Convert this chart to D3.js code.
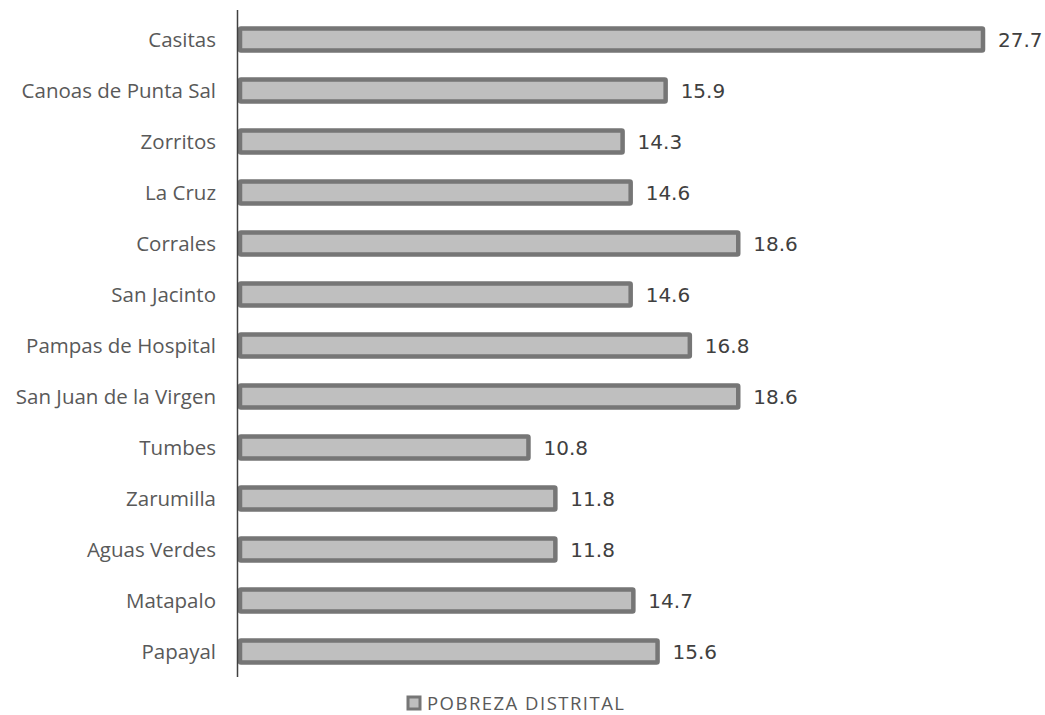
<!DOCTYPE html>
<html><head><meta charset="utf-8">
<script src="https://cdn.jsdelivr.net/npm/d3@7"></script>
<style>body{margin:0;background:#fff}</style>
</head><body>
<svg id="c" width="1045" height="715"></svg>
<script>
const categories = ["Casitas","Canoas de Punta Sal","Zorritos","La Cruz","Corrales","San Jacinto","Pampas de Hospital","San Juan de la Virgen","Tumbes","Zarumilla","Aguas Verdes","Matapalo","Papayal"];
const values = [27.7,15.9,14.3,14.6,18.6,14.6,16.8,18.6,10.8,11.8,11.8,14.7,15.6];
const seriesName = "POBREZA DISTRITAL";

const svg = d3.select("#c");
const x = d3.scaleLinear().domain([0, 27.7]).range([238, 983]);
const y = d3.scaleBand().domain(categories).range([14, 677]).paddingInner(0.57).paddingOuter(0.285);

svg.append("g").selectAll("rect").data(values).join("rect")
  .attr("x", x(0)+2)
  .attr("y", (d,i)=>y(categories[i]))
  .attr("width", d=>x(d)-x(0)-2)
  .attr("height", y.bandwidth())
  .attr("fill","#bfbfbf").attr("stroke","#767676").attr("stroke-width",4.5)
  .attr("rx",1);

svg.append("line").attr("x1",237.5).attr("x2",237.5).attr("y1",10).attr("y2",677)
  .attr("stroke","#404040").attr("stroke-width",1.5);

svg.append("g").selectAll("text").data(categories).join("text")
  .attr("x",216).attr("y",d=>y(d)+y.bandwidth()/2).attr("dy","0.35em")
  .attr("text-anchor","end").attr("font-family","Open Sans, sans-serif").attr("font-size",20.5)
  .attr("fill","#595959").text(d=>d);

svg.append("g").selectAll("text").data(values).join("text")
  .attr("x",d=>x(d)+15).attr("y",(d,i)=>y(categories[i])+y.bandwidth()/2).attr("dy","0.36em")
  .attr("font-family","DejaVu Sans, sans-serif").attr("font-size",20)
  .attr("fill","#404040").text(d=>d.toFixed(1));

const lg = svg.append("g");
lg.append("rect").attr("x",408).attr("y",697).attr("width",12).attr("height",12)
  .attr("fill","#bfbfbf").attr("stroke","#767676").attr("stroke-width",3);
lg.append("text").attr("x",427).attr("y",709.5)
  .attr("font-family","Open Sans, sans-serif").attr("font-size",18.5)
  .attr("textLength",197).attr("lengthAdjust","spacing")
  .attr("fill","#595959").text(seriesName);
</script>
</body></html>
